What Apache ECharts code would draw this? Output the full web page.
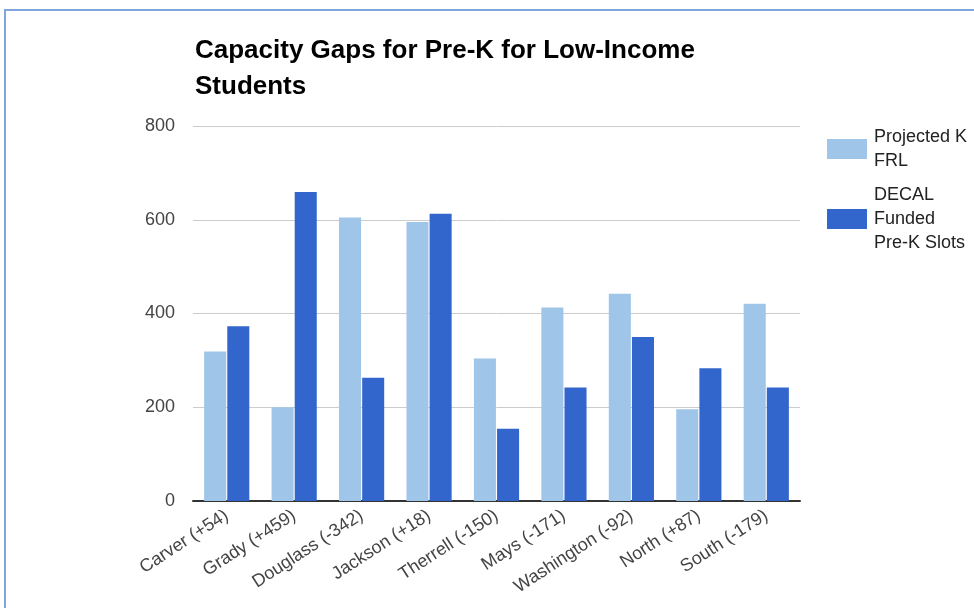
<!DOCTYPE html>
<html>
<head>
<meta charset="utf-8">
<script src="https://cdn.jsdelivr.net/npm/echarts@6/dist/echarts.min.js"></script>
<style>
  html, body { margin: 0; padding: 0; background: #fff; }
  #chart { width: 974px; height: 608px; }
</style>
</head>
<body>
<div id="chart"></div>
<script>
// Schools with their capacity gap (DECAL slots minus projected K FRL)
const schools = ['Carver (+54)', 'Grady (+459)', 'Douglass (-342)', 'Jackson (+18)', 'Therrell (-150)',
  'Mays (-171)', 'Washington (-92)', 'North (+87)', 'South (-179)'];
const projectedKFRL = [319, 200, 605, 595, 304, 413, 442, 196, 421];
const decalSlots = [373, 659, 263, 613, 154, 242, 350, 283, 242];
const yTicks = { min: 0, max: 800, interval: 200 };

const seriesNames = ['Projected K\nFRL', 'DECAL\nFunded\nPre-K Slots'];
const colors = ['#9fc5e8', '#3366cc'];

const chart = echarts.init(document.getElementById('chart'));
const font = 'Arial, "Liberation Sans", sans-serif';
const LH = 24;

// One legend block per series so the swatch sits beside the first text line
function legendFor(i, top) {
  const lines = seriesNames[i].split('\n').length;
  return {
    data: [seriesNames[i]],
    orient: 'vertical',
    left: 822,
    top: top,
    icon: 'rect',
    itemWidth: 40,
    itemHeight: 20,
    selectedMode: false,
    textStyle: {
      fontFamily: font, fontSize: 18, color: '#222', lineHeight: LH,
      padding: [(lines - 1) * LH, 0, 0, 2]
    }
  };
}

chart.setOption({
  animation: false,
  color: colors,
  title: {
    text: 'Capacity Gaps for Pre-K for Low-Income\nStudents',
    left: 190, top: 28,
    textStyle: { fontFamily: font, fontSize: 26, fontWeight: 'bold', color: '#000', lineHeight: 36 }
  },
  graphic: [{
    type: 'rect',
    shape: { x: 5, y: 10, width: 1000, height: 700 },
    style: { fill: 'none', stroke: '#7ea6dc', lineWidth: 2 },
    silent: true
  }],
  legend: [legendFor(0, 132 - 24), legendFor(1, 202 - 48)],
  grid: { left: 193, right: 174, top: 126, bottom: 107, containLabel: false },
  xAxis: {
    type: 'category',
    data: schools,
    axisLine: { lineStyle: { color: '#333', width: 2 } },
    axisTick: { show: false },
    axisLabel: {
      rotate: 33, interval: 0, margin: 13,
      fontFamily: font, fontSize: 18, color: '#444'
    }
  },
  yAxis: {
    type: 'value',
    min: yTicks.min, max: yTicks.max, interval: yTicks.interval,
    axisLine: { show: false },
    axisTick: { show: false },
    splitLine: { lineStyle: { color: '#cccccc' } },
    axisLabel: { fontFamily: font, fontSize: 18, color: '#444', margin: 18 }
  },
  series: [
    { name: seriesNames[0], type: 'bar', data: projectedKFRL, barGap: '5%', barCategoryGap: '33%' },
    { name: seriesNames[1], type: 'bar', data: decalSlots, barGap: '5%', barCategoryGap: '33%' }
  ]
});
</script>
</body>
</html>
